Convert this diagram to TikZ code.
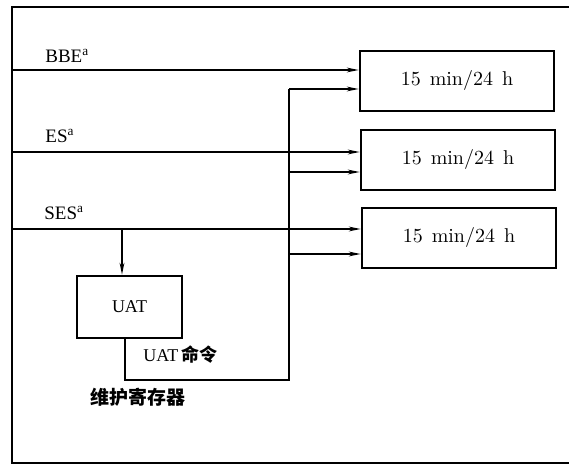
\documentclass[tikz,border=0pt]{standalone}
\usepackage{fontspec}
\setmainfont{Liberation Serif}
\newfontfamily\cjk{Noto Sans CJK SC}
\newfontfamily\lmr{Latin Modern Roman}
\usetikzlibrary{arrows.meta}
\begin{document}
\begin{tikzpicture}[x=0.5pt,y=-0.5pt,
    frame/.style={line width=1.3pt},
    box/.style={draw,line width=1.3pt,minimum width=97pt,minimum height=30pt,font=\lmr\fontsize{10}{12}\selectfont},
    uatbox/.style={draw,line width=1.3pt,minimum width=52.5pt,minimum height=31pt,font=\fontsize{9}{11}\selectfont},
    sig/.style={line width=0.6pt},
    feed/.style={sig,-{Stealth[length=6pt,width=2.4pt]}},
    lbl/.style={anchor=base west,inner sep=0pt,font=\fontsize{9.5}{11}\selectfont}]
    \useasboundingbox (0,0) rectangle (569,465);

    % Outer frame (open on the right)
    \draw[frame] (569,7) -- (12,7) -- (12,463) -- (569,463);

    % Counter boxes
    \node[box] (cnt1) at (457,81) {15\hspace{0.45em}min/24\hspace{0.45em}h};
    \node[box] (cnt2) at (458,160) {15\hspace{0.45em}min/24\hspace{0.45em}h};
    \node[box] (cnt3) at (459,238) {15\hspace{0.45em}min/24\hspace{0.45em}h};

    % UAT block
    \node[uatbox] (uat) at (129.5,307) {UAT};

    % Input signals
    \coordinate (bbe) at (12,70);
    \coordinate (es) at (12,152);
    \coordinate (ses) at (12,229);
    \node[lbl] (bbelbl) at (45,63) {BBE\textsuperscript{a}};
    \node[lbl] (eslbl) at (45,143) {ES\textsuperscript{a}};
    \node[lbl] (seslbl) at (44,220) {SES\textsuperscript{a}};
    \draw[feed] (bbe) -- (bbe -| cnt1.west);
    \draw[feed] (es) -- (es -| cnt2.west);
    \draw[feed] (ses) -- (ses -| cnt3.west);

    % SES into UAT
    \coordinate (sesdrop) at (122,229);
    \draw[feed] (sesdrop) -- (sesdrop |- uat.north);

    % UAT command line back to the counters
    \coordinate (cmdout) at (125,338);
    \coordinate (cmdbus) at (289,380);
    \coordinate (cmd1) at (289,89);
    \coordinate (cmd2) at (289,172);
    \coordinate (cmd3) at (289,254);
    \draw[sig] (cmdout |- uat.south) -- (cmdout |- cmdbus) -- (cmdbus) -- (cmd1);
    \draw[feed] (cmd1) -- (cmd1 -| cnt1.west);
    \draw[feed] (cmd2) -- (cmd2 -| cnt2.west);
    \draw[feed] (cmd3) -- (cmd3 -| cnt3.west);

    % Labels
    \node[anchor=base west,inner sep=0pt,font=\fontsize{9}{11}\selectfont] (cmdlbl) at (143,362) {UAT\,{\cjk\bfseries 命令}};
    \node[anchor=base west,inner sep=0pt,font=\cjk\bfseries\fontsize{9.5}{11}\selectfont] (reglbl) at (90,405) {维护寄存器};
\end{tikzpicture}
\end{document}
